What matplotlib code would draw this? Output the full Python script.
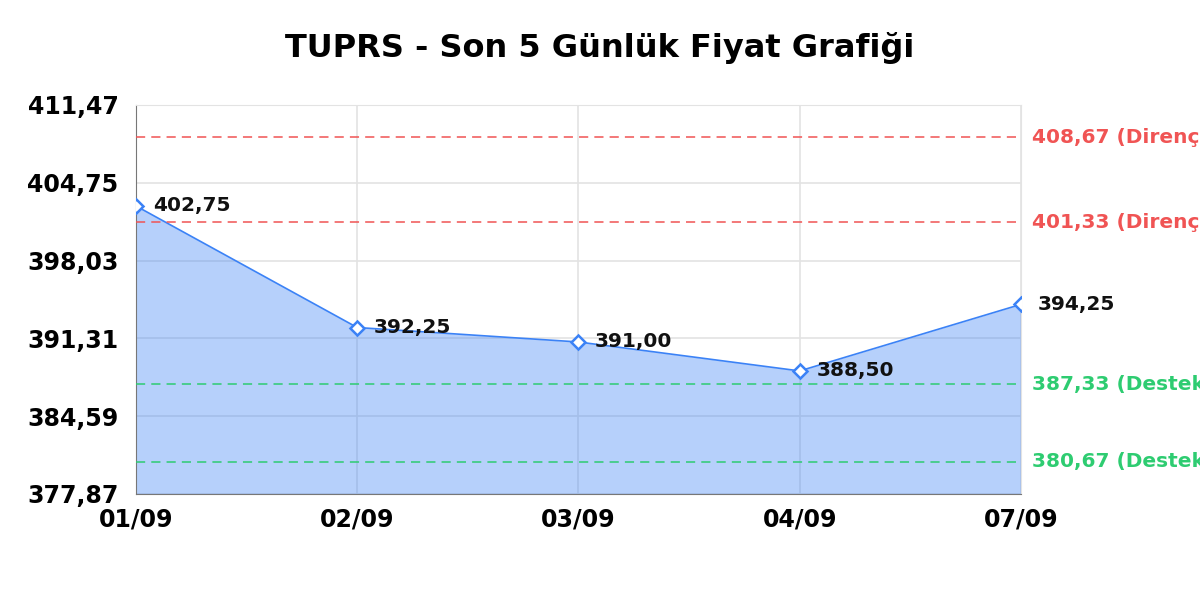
import matplotlib
matplotlib.use("Agg")
import matplotlib.pyplot as plt

# Données
dates = ["01/09", "02/09", "03/09", "04/09", "07/09"]
prix = [402.75, 392.25, 391.00, 388.50, 394.25]
y_ticks = [377.87, 384.59, 391.31, 398.03, 404.75, 411.47]
direnc = [408.67, 401.33]
destek = [387.33, 380.67]

def fmt(v):
    return f"{v:.2f}".replace(".", ",")

fig = plt.figure(figsize=(12, 6), dpi=100)
ax = fig.add_axes([0.1133, 0.1767, 0.7375, 0.6483])

x = list(range(len(dates)))
ax.fill_between(x, prix, y_ticks[0], color="#3b82f6", alpha=0.37, linewidth=0, zorder=2)
ax.plot(x, prix, color="#3b82f6", linewidth=1.2, zorder=3)
ax.plot(x, prix, linestyle="none", marker="D", markersize=7, markerfacecolor="white",
        markeredgecolor="#3b82f6", markeredgewidth=1.8, zorder=4)

for xi, v in zip(x, prix):
    ax.annotate(fmt(v), (xi, v), xytext=(12, 0), textcoords="offset points",
                fontsize=14.5, fontweight="bold", color="#111111", va="center", ha="left",
                zorder=5, annotation_clip=False)

# Direnç / Destek
for v in direnc:
    ax.axhline(v, color="#f05454", linestyle=(0, (6, 4)), linewidth=1.1, zorder=3)
    ax.text(1.0125, v, f"{fmt(v)} (Direnç)", transform=ax.get_yaxis_transform(),
            color="#f05454", fontsize=14.5, fontweight="bold", va="center", ha="left")
for v in destek:
    ax.axhline(v, color="#2ecc71", linestyle=(0, (6, 4)), linewidth=1.1, zorder=3)
    ax.text(1.0125, v, f"{fmt(v)} (Destek)", transform=ax.get_yaxis_transform(),
            color="#2ecc71", fontsize=14.5, fontweight="bold", va="center", ha="left")

ax.set_xlim(0, len(dates) - 1)
ax.set_ylim(y_ticks[0], y_ticks[-1])
ax.set_xticks(x)
ax.set_xticklabels(dates)
ax.set_yticks(y_ticks)
ax.set_yticklabels([fmt(t) for t in y_ticks])
ax.tick_params(length=0, labelsize=17)
ax.tick_params(axis="y", pad=12.5)
ax.tick_params(axis="x", pad=10)
for lab in ax.get_xticklabels() + ax.get_yticklabels():
    lab.set_fontweight("bold")

ax.grid(True, color="#e3e3e3", linewidth=1.2, zorder=1)
ax.set_axisbelow(True)
for s in ["top", "right"]:
    ax.spines[s].set_color("#e3e3e3")
for s in ["left", "bottom"]:
    ax.spines[s].set_color("#777777")

fig.suptitle("TUPRS - Son 5 Günlük Fiyat Grafiği", fontsize=23, fontweight="bold",
             y=0.92, va="center")

fig.savefig("out.png", dpi=100)
